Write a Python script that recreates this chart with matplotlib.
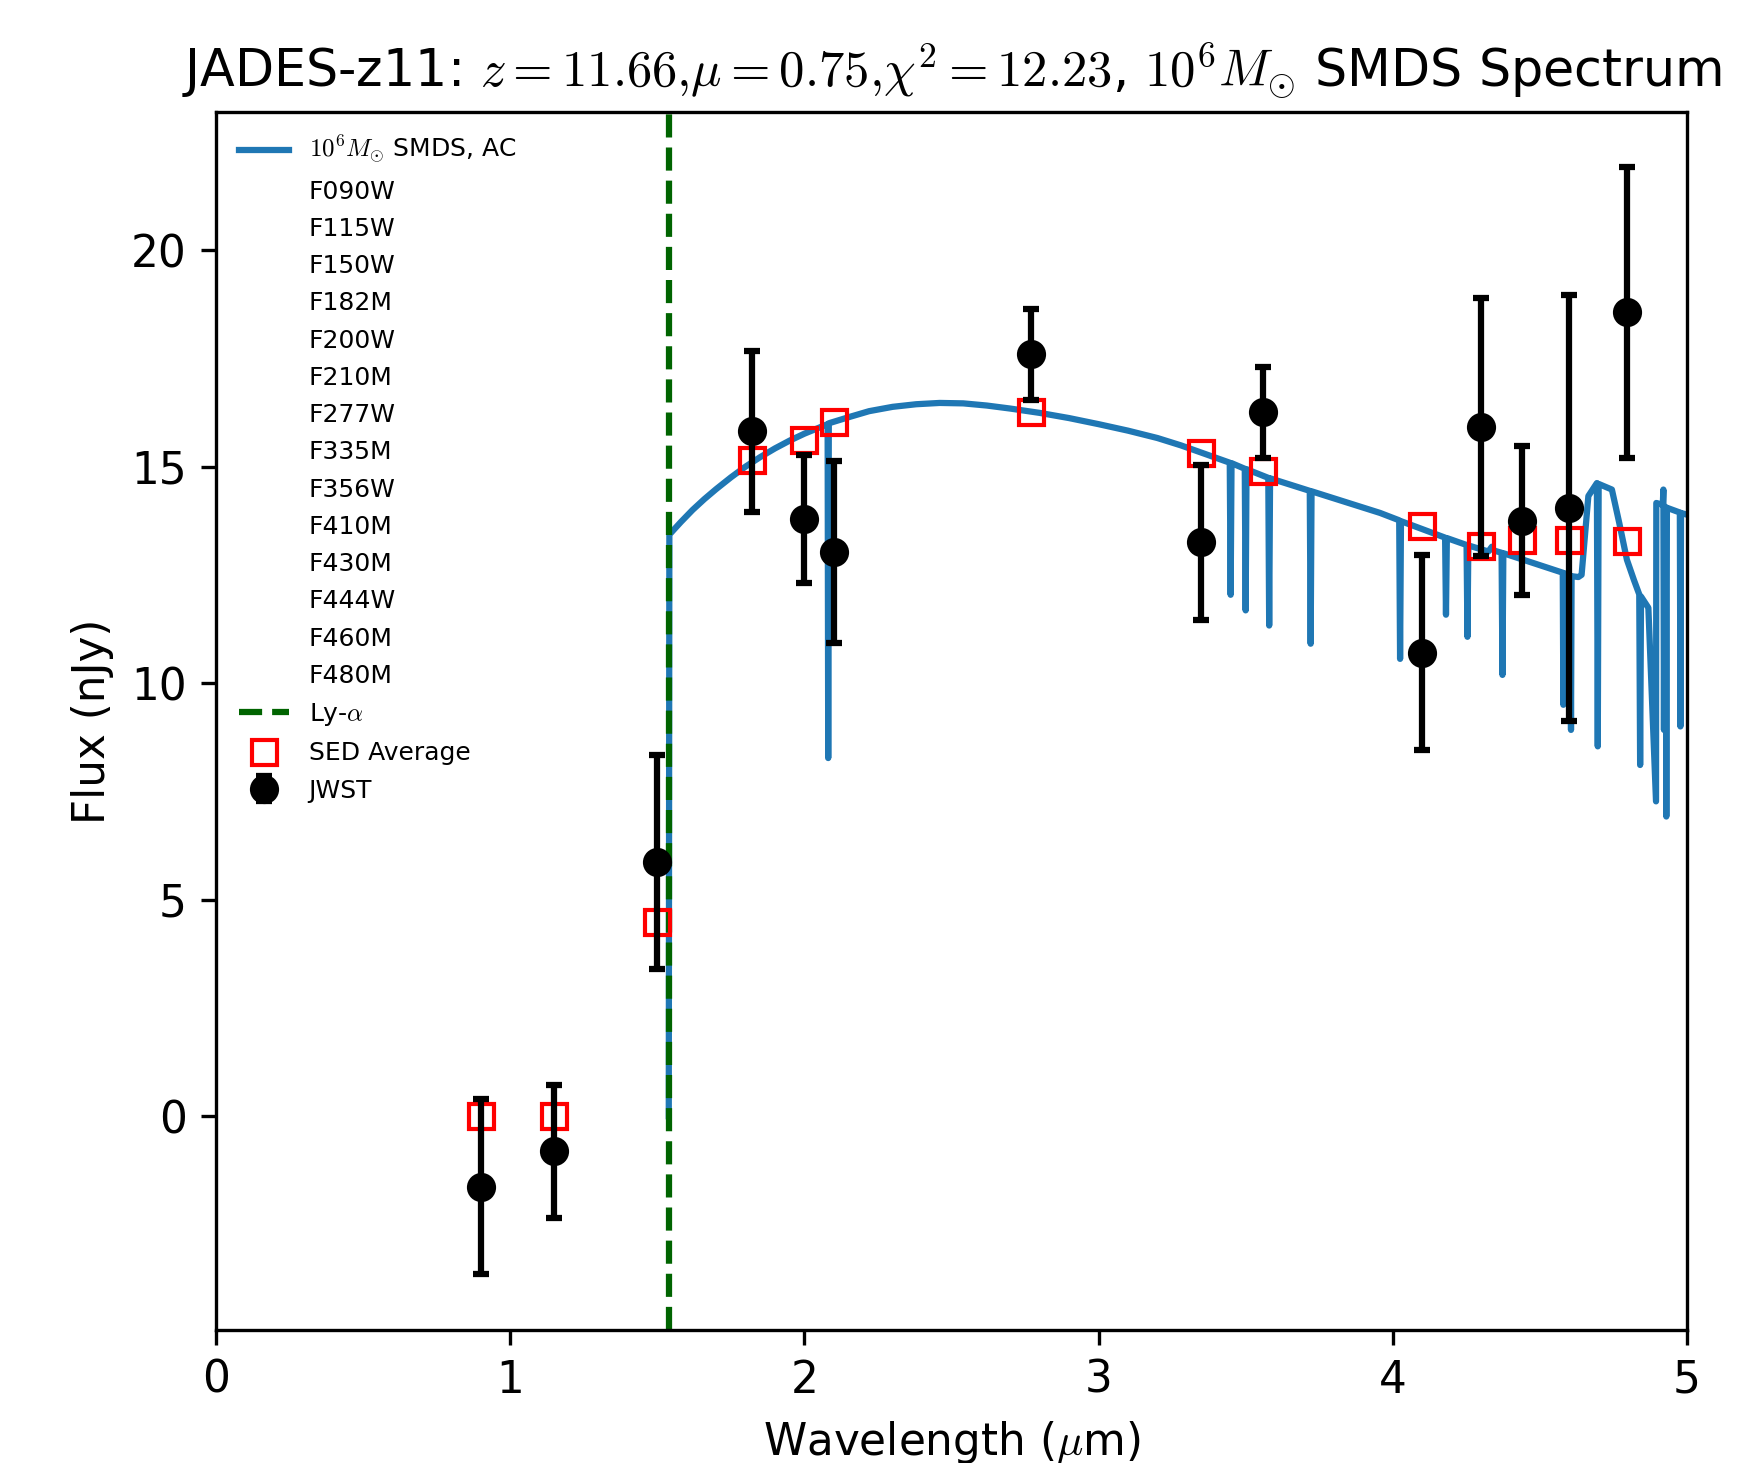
import matplotlib
matplotlib.use("Agg")
import matplotlib.pyplot as plt

plt.rcParams["mathtext.fontset"] = "cm"

# photometry (JWST NIRCam bands)
filters = ["F090W", "F115W", "F150W", "F182M", "F200W", "F210M", "F277W",
           "F335M", "F356W", "F410M", "F430M", "F444W", "F460M", "F480M"]
wl = [0.902, 1.149, 1.500, 1.821, 2.000, 2.101, 2.770,
      3.349, 3.558, 4.098, 4.300, 4.441, 4.600, 4.798]
jwst_flux = [-1.63, -0.81, 5.87, 15.82, 13.79, 13.03, 17.59,
             13.25, 16.26, 10.70, 15.91, 13.75, 14.05, 18.56]
jwst_err = [2.02, 1.53, 2.47, 1.86, 1.48, 2.10, 1.06,
            1.79, 1.05, 2.25, 2.98, 1.72, 4.92, 3.35]
sed_avg = [0.0, 0.0, 4.49, 15.16, 15.61, 16.03, 16.27,
           15.31, 14.89, 13.62, 13.16, 13.30, 13.30, 13.29]

# model spectrum
spec_wl = [1.539, 1.541, 1.58, 1.62, 1.66, 1.70, 1.75, 1.80, 1.85, 1.90,
           1.95, 2.00, 2.079, 2.081, 2.083, 2.15, 2.22, 2.30, 2.38, 2.46,
           2.54, 2.62, 2.70, 2.80, 2.90, 3.00, 3.10, 3.20, 3.28,
           3.446, 3.449, 3.452, 3.497, 3.500, 3.503, 3.577, 3.580, 3.583,
           3.718, 3.721, 3.724, 3.957, 4.022, 4.025, 4.028,
           4.178, 4.181, 4.184, 4.251, 4.254, 4.257, 4.325, 4.337, 4.345,
           4.370, 4.373, 4.376, 4.578, 4.580, 4.582, 4.604, 4.606, 4.608,
           4.631, 4.642, 4.665, 4.694, 4.697, 4.700, 4.745, 4.770, 4.796,
           4.820, 4.838, 4.841, 4.844, 4.869, 4.895, 4.896, 4.918, 4.920,
           4.922, 4.924, 4.928, 4.930, 4.932, 4.976, 4.978, 4.980, 5.02]
spec_flux = [0.0, 13.43, 13.72, 14.00, 14.25, 14.48, 14.75, 15.00, 15.22, 15.42,
             15.60, 15.76, 15.98, 8.27, 16.00, 16.14, 16.28, 16.38, 16.44, 16.47,
             16.46, 16.41, 16.34, 16.24, 16.12, 15.98, 15.83, 15.66, 15.49,
             15.09, 12.04, 15.08, 14.95, 11.68, 14.94, 14.74, 11.33, 14.73,
             14.44, 10.91, 14.43, 13.93, 13.76, 10.56, 13.74,
             13.36, 11.58, 13.35, 13.19, 11.07, 13.18, 13.04, 13.15, 13.06,
             13.01, 10.19, 13.00, 12.55, 9.50, 12.54, 12.48, 8.92, 12.47,
             12.45, 12.50, 14.32, 14.62, 8.54, 14.60, 14.47, 13.70, 12.85,
             12.38, 12.05, 8.11, 12.00, 11.74, 7.27, 14.16, 14.12, 14.47,
             8.92, 14.08, 14.06, 6.92, 14.05, 13.94, 9.00, 13.93, 13.85]

z = 11.66
lya = 0.1216 * (1 + z)

fig = plt.figure(figsize=(5.85, 4.8767), dpi=300)
ax = fig.add_axes([0.1231, 0.0911, 0.8381, 0.8324])

ax.plot(spec_wl, spec_flux, color="#1f77b4", lw=1.5,
        label=r"$10^6 M_{\odot}$ SMDS, AC")
for f in filters:
    ax.plot([], [], " ", label=f)
ax.axvline(lya, color="darkgreen", ls="--", lw=1.5, label=r"Ly-$\alpha$")
ax.plot(wl, sed_avg, "s", mfc="none", mec="red", ms=6, mew=1,
        label="SED Average")
ax.errorbar(wl, jwst_flux, yerr=jwst_err, fmt="o", color="black", ms=6,
            capsize=2, elinewidth=1.5, capthick=1.5, label="JWST")

ax.set_xlim(0, 5)
ax.set_ylim(-4.93, 23.19)
ax.set_yticks([0, 5, 10, 15, 20])
ax.set_xlabel(r"Wavelength ($\mu$m)", fontsize=10.5)
ax.set_ylabel("Flux (nJy)", fontsize=10.5)
ax.tick_params(labelsize=10.5)
ax.set_title(r"JADES-z11: $z{=}11.66{,}\mu{=}0.75{,}\chi^2{=}12.23$, $10^6M_{\odot}$ SMDS Spectrum",
             fontsize=12.2)
ax.legend(loc="upper left", fontsize=6, frameon=False, labelspacing=0.53)

fig.savefig("out.png", dpi=300)
